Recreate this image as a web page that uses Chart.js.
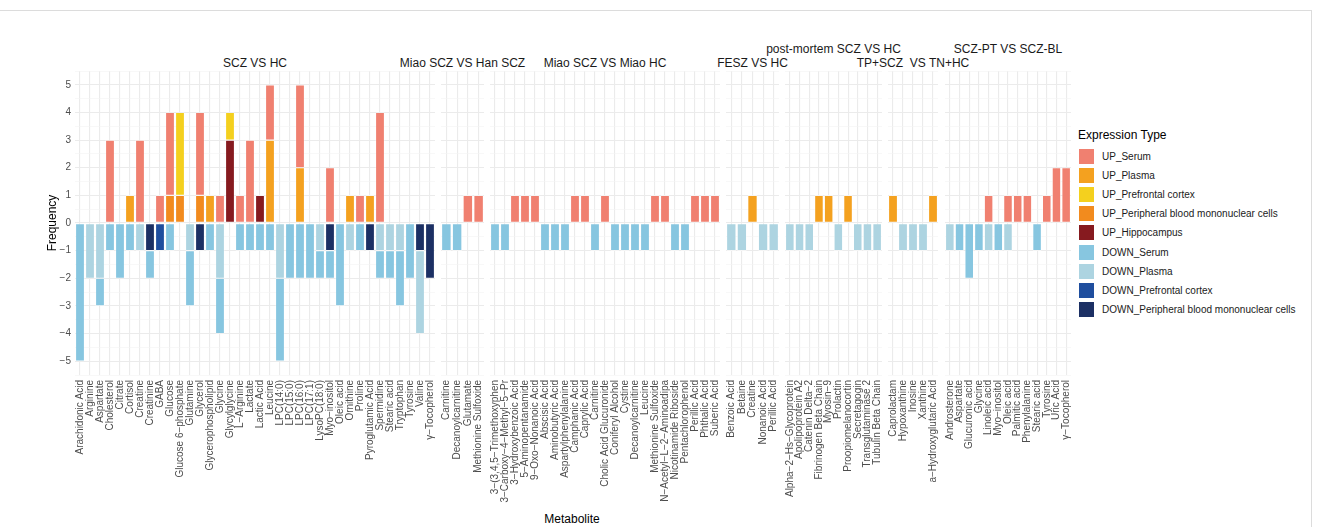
<!DOCTYPE html>
<html>
<head>
<meta charset="utf-8">
<script src="https://cdn.jsdelivr.net/npm/chart.js@4.4.1/dist/chart.umd.min.js"></script>
<style>
  html, body { margin: 0; padding: 0; background: #fff; }
  body { width: 1322px; height: 527px; position: relative; overflow: hidden;
         font-family: "Liberation Sans", Arial, sans-serif; }
  .frame { position: absolute; left: -1px; top: 10px; width: 1313px; height: 540px;
           border: 1px solid #dcdcdc; box-sizing: border-box; }
  canvas.panel { position: absolute; top: 0; }
  .strip { position: absolute; font-size: 12px; line-height: 14px; color: #1a1a1a;
           white-space: pre; transform: translateX(-50%); }
  .axis-title { position: absolute; font-size: 12px; line-height: 14px; color: #000;
                transform: translateX(-50%); white-space: pre; }
  .legend-title { position: absolute; left: 1078px; top: 128px; font-size: 12px;
                  line-height: 14px; color: #000; }
  .legend-row { position: absolute; left: 1078px; height: 17px; display: flex; align-items: center; }
  .legend-key { width: 17px; height: 17px; box-sizing: border-box; border: 0.5px solid #fff; }
  .legend-label { margin-left: 7px; font-size: 10px; line-height: 17px; color: #1a1a1a; white-space: pre; }
</style>
</head>
<body>
<div class="frame"></div>
<div id="strips"></div>
<div class="axis-title" style="left:572px; top:512px;">Metabolite</div>
<div class="legend-title">Expression Type</div>
<div id="legend"></div>

<script>
// ---- expression types (legend order) ----
const typeNames = [
  'UP_Serum', 'UP_Plasma', 'UP_Prefrontal cortex', 'UP_Peripheral blood mononuclear cells',
  'UP_Hippocampus', 'DOWN_Serum', 'DOWN_Plasma', 'DOWN_Prefrontal cortex',
  'DOWN_Peripheral blood mononuclear cells'
];
const typeColors = [
  '#F08070', '#F4A11F', '#F4D01E', '#F28B1E', '#861A1F',
  '#87C6E0', '#ADD4E1', '#1F4E9E', '#1C3064'
];

// ---- SCZ VS HC ----
const sczHcMetabolites = [
  'Arachidonic Acid', 'Arginine', 'Aspartate', 'Cholesterol', 'Citrate', 'Cortisol', 'Creatine',
  'Creatinine', 'GABA', 'Glucose', 'Glucose 6\u2212phosphate', 'Glutamine', 'Glycerol',
  'Glycerophospholipid', 'Glycine', 'Glycylglycine', 'L\u2212Arginine', 'Lactate', 'Lactic Acid',
  'Leucine', 'LPC(14:0)', 'LPC(15:0)', 'LPC(16:0)', 'LPC(17:1)', 'LysoPC(18:0)', 'Myo\u2212inositol',
  'Oleic acid', 'Ornithine', 'Proline', 'Pyroglutamic Acid', 'Spermidine', 'Stearic acid',
  'Tryptophan', 'Tyrosine', 'Valine', '\u03b3\u2212Tocopherol'
];
const sczHcUpSerum        = [0,0,0,3,0,0,3,0,1,3, 0,0,3,0,1,0,1,3,0,2, 0,0,3,0,0,2,0,0,1,0, 4,0,0,0,0,0];
const sczHcUpPlasma       = [0,0,0,0,0,1,0,0,0,0, 0,0,0,1,0,0,0,0,0,3, 0,0,2,0,0,0,0,1,0,1, 0,0,0,0,0,0];
const sczHcUpPrefrontal   = [0,0,0,0,0,0,0,0,0,0, 3,0,0,0,0,1,0,0,0,0, 0,0,0,0,0,0,0,0,0,0, 0,0,0,0,0,0];
const sczHcUpPbmc         = [0,0,0,0,0,0,0,0,0,1, 1,0,1,0,0,0,0,0,0,0, 0,0,0,0,0,0,0,0,0,0, 0,0,0,0,0,0];
const sczHcUpHippocampus  = [0,0,0,0,0,0,0,0,0,0, 0,0,0,0,0,3,0,0,1,0, 0,0,0,0,0,0,0,0,0,0, 0,0,0,0,0,0];
const sczHcDownSerum      = [-5,0,-1,-1,-2,-1,0,-1,0,-1, 0,-2,0,-1,-2,0,-1,-1,-1,-1, -3,-2,-2,-2,-1,-1,-3,0,-1,0, -1,-1,-2,-2,0,0];
const sczHcDownPlasma     = [0,-2,-2,0,0,0,-1,0,0,0, 0,-1,0,0,-2,0,0,0,0,0, -2,0,0,0,-1,0,0,-1,0,0, -1,-1,-1,0,-3,0];
const sczHcDownPrefrontal = [0,0,0,0,0,0,0,0,-1,0, 0,0,0,0,0,0,0,0,0,0, 0,0,0,0,0,0,0,0,0,0, 0,0,0,0,0,0];
const sczHcDownPbmc       = [0,0,0,0,0,0,0,-1,0,0, 0,0,-1,0,0,0,0,0,0,0, 0,0,0,0,0,-1,0,0,0,-1, 0,0,0,0,-1,-2];

// ---- Miao SCZ VS Han SCZ ----
const miaoHanMetabolites = ['Carnitine', 'Decanoylcarnitine', 'Glutamate', 'Methionine Sulfoxide'];
const miaoHanUpSerum   = [0, 0, 1, 1];
const miaoHanDownSerum = [-1, -1, 0, 0];

// ---- Miao SCZ VS Miao HC ----
const miaoHcMetabolites = [
  '3\u2212(3,4,5\u2212Trimethoxyphen', '3\u2212Carboxy\u22124\u2212Methyl\u22125\u2212Pr',
  '3\u2212Hydroxybenzoic Acid', '5\u2212Aminopentanamide', '9\u2212Oxo\u2212Nonanoic Acid',
  'Abscisic Acid', 'Aminobutyric Acid', 'Aspartylphenylalanine', 'Camphanic Acid', 'Caprylic Acid',
  'Carnitine', 'Cholic Acid Glucuronide', 'Coniferyl Alcohol', 'Cystine', 'Decanoylcarnitine',
  'Leucine', 'Methionine Sulfoxide', 'N\u2212Acetyl\u2212L\u22122\u2212Aminoadipa',
  'Nicotinamide Riboside', 'Pentachlorophenol', 'Perillic Acid', 'Phthalic Acid', 'Suberic Acid'
];
const miaoHcUpSerum   = [0,0,1,1,1,0,0,0,1,1,0,1,0,0,0,0,1,1,0,0,1,1,1];
const miaoHcDownSerum = [-1,-1,0,0,0,-1,-1,-1,0,0,-1,0,-1,-1,-1,-1,0,0,-1,-1,0,0,0];

// ---- FESZ VS HC ----
const feszMetabolites = ['Benzoic Acid', 'Betaine', 'Creatine', 'Nonanoic Acid', 'Perillic Acid'];
const feszUpPlasma   = [0, 0, 1, 0, 0];
const feszDownPlasma = [-1, -1, 0, -1, -1];

// ---- post-mortem SCZ VS HC ----
const postMortemMetabolites = [
  'Alpha\u22122\u2212Hs\u2212Glycoprotein', 'Apolipoprotein A2', 'Catenin Delta\u22122',
  'Fibrinogen Beta Chain', 'Myosin\u22129', 'Prolactin', 'Proopiomelanocortin', 'Secretagogin',
  'Transglutaminase 2', 'Tubulin Beta Chain'
];
const postMortemUpPlasma   = [0, 0, 0, 1, 1, 0, 1, 0, 0, 0];
const postMortemDownPlasma = [-1, -1, -1, 0, 0, -1, 0, -1, -1, -1];

// ---- TP+SCZ VS TN+HC ----
const tpMetabolites = ['Caprolactam', 'Hypoxanthine', 'Inosine', 'Xanthine', 'a\u2212Hydroxyglutaric Acid'];
const tpUpPlasma   = [1, 0, 0, 0, 1];
const tpDownPlasma = [0, -1, -1, -1, 0];

// ---- SCZ-PT VS SCZ-BL ----
const ptBlMetabolites = [
  'Androsterone', 'Aspartate', 'Glucuronic acid', 'Glycine', 'Linoleic acid', 'Myo\u2212inositol',
  'Oleic acid', 'Palmitic acid', 'Phenylalanine', 'Stearic acid', 'Tyrosine', 'Uric Acid',
  '\u03b3\u2212Tocopherol'
];
const ptBlUpSerum    = [0, 0, 0, 0, 1, 0, 1, 1, 1, 0, 1, 2, 2];
const ptBlDownSerum  = [0, -1, -2, -1, 0, -1, 0, 0, 0, -1, 0, 0, 0];
const ptBlDownPlasma = [-1, 0, 0, 0, -1, 0, -1, 0, 0, 0, 0, 0, 0];

// y axis range and breaks
const yMin = -5.5, yMax = 5.5, yMinorStep = 0.5;

// panels: series given in legend order (null = type absent in this comparison)
const panels = [
  { title: 'SCZ VS HC', raised: false, labels: sczHcMetabolites,
    series: [sczHcUpSerum, sczHcUpPlasma, sczHcUpPrefrontal, sczHcUpPbmc, sczHcUpHippocampus,
             sczHcDownSerum, sczHcDownPlasma, sczHcDownPrefrontal, sczHcDownPbmc] },
  { title: 'Miao SCZ VS Han SCZ', raised: false, labels: miaoHanMetabolites,
    series: [miaoHanUpSerum, null, null, null, null, miaoHanDownSerum, null, null, null] },
  { title: 'Miao SCZ VS Miao HC', raised: false, labels: miaoHcMetabolites,
    series: [miaoHcUpSerum, null, null, null, null, miaoHcDownSerum, null, null, null] },
  { title: 'FESZ VS HC', raised: false, labels: feszMetabolites,
    series: [null, feszUpPlasma, null, null, null, null, feszDownPlasma, null, null] },
  { title: 'post-mortem SCZ VS HC', raised: true, labels: postMortemMetabolites,
    series: [null, postMortemUpPlasma, null, null, null, null, postMortemDownPlasma, null, null] },
  { title: 'TP+SCZ  VS TN+HC', raised: false, labels: tpMetabolites,
    series: [null, tpUpPlasma, null, null, null, null, tpDownPlasma, null, null] },
  { title: 'SCZ-PT VS SCZ-BL', raised: true, labels: ptBlMetabolites,
    series: [ptBlUpSerum, null, null, null, null, ptBlDownSerum, ptBlDownPlasma, null, null] }
];

// ---- layout (pixels) ----
const PAGE_H = 527;
const PLOT_TOP = 71;
const PLOT_BOTTOM = 375;
const Y_AXIS_W = 75;
const panelBoxes = [
  [75, 435], [441, 484], [490, 720], [726, 779], [785, 882], [888, 938], [945, 1071]
];
// stacking order: segment nearest zero first (reverse of legend order within UP and DOWN)
const stackOrder = [4, 3, 2, 1, 0, 8, 7, 6, 5];

Chart.defaults.font.family = '"Liberation Sans", Arial, sans-serif';
Chart.defaults.animation = false;

const yTickValues = [];
for (let v = yMin; v <= yMax + 1e-9; v += yMinorStep) yTickValues.push(Math.round(v * 10) / 10);

const isMajor = v => Math.abs(v - Math.round(v)) < 1e-9;
const fmtNum = v => (v < 0 ? '\u2212' + Math.abs(v) : String(v));

function drawPanel(panel, box, withYAxis) {
  const canvas = document.createElement('canvas');
  canvas.className = 'panel';
  const left = withYAxis ? 0 : box[0];
  const width = box[1] - left;
  canvas.width = width;
  canvas.height = PAGE_H;
  canvas.style.left = left + 'px';
  canvas.style.width = width + 'px';
  canvas.style.height = PAGE_H + 'px';
  document.body.appendChild(canvas);

  const n = panel.labels.length;
  const datasets = [];
  stackOrder.forEach(t => {
    const arr = panel.series[t];
    if (!arr) return;
    datasets.push({
      label: typeNames[t],
      data: arr.map(v => (v === 0 ? null : v)),
      backgroundColor: typeColors[t],
      borderColor: '#ffffff',
      borderWidth: 0.6,
      borderSkipped: false,
      barPercentage: 0.9,
      categoryPercentage: 1.0,
      stack: 'freq'
    });
  });

  new Chart(canvas, {
    type: 'bar',
    data: { labels: panel.labels, datasets },
    options: {
      responsive: false,
      animation: false,
      layout: { padding: { top: PLOT_TOP, left: 0, right: 0, bottom: 0 } },
      plugins: { legend: { display: false }, tooltip: { enabled: false }, title: { display: false } },
      scales: {
        x: {
          type: 'category',
          stacked: true,
          offset: true,
          grid: { offset: false, color: '#EBEBEB', lineWidth: 1.1, drawTicks: false },
          border: { display: false },
          ticks: {
            autoSkip: false, maxRotation: 90, minRotation: 90, padding: 5,
            color: '#4D4D4D', font: { size: 10 }
          },
          afterFit: s => { s.height = PAGE_H - PLOT_BOTTOM; s.paddingLeft = 0; s.paddingRight = 0; }
        },
        y: {
          type: 'linear',
          stacked: true,
          min: yMin, max: yMax,
          afterBuildTicks: s => { s.ticks = yTickValues.map(v => ({ value: v })); },
          ticks: {
            display: withYAxis, autoSkip: false, padding: 4,
            color: '#4D4D4D', font: { size: 10 },
            callback: v => (isMajor(v) ? fmtNum(Math.round(v)) : '')
          },
          grid: {
            drawTicks: false,
            color: ctx => (isMajor(ctx.tick.value) ? '#EBEBEB' : '#F4F4F4'),
            lineWidth: ctx => (isMajor(ctx.tick.value) ? 1.1 : 0.6)
          },
          border: { display: false },
          title: withYAxis
            ? { display: true, text: 'Frequency', color: '#000', font: { size: 12 }, padding: { top: 45, bottom: 0 } }
            : { display: false },
          afterFit: s => { s.width = withYAxis ? Y_AXIS_W : 0; s.paddingTop = 0; s.paddingBottom = 0; }
        }
      }
    }
  });

  // facet strip label
  const strip = document.createElement('div');
  strip.className = 'strip';
  strip.textContent = panel.title;
  strip.style.left = ((box[0] + box[1]) / 2) + 'px';
  strip.style.top = (panel.raised ? 42 : 56) + 'px';
  document.getElementById('strips').appendChild(strip);
}

panels.forEach((p, i) => drawPanel(p, panelBoxes[i], i === 0));

// legend
const legend = document.getElementById('legend');
typeNames.forEach((name, i) => {
  const row = document.createElement('div');
  row.className = 'legend-row';
  row.style.top = (147.5 + i * 19.2) + 'px';
  const key = document.createElement('div');
  key.className = 'legend-key';
  key.style.background = typeColors[i];
  const lab = document.createElement('div');
  lab.className = 'legend-label';
  lab.textContent = name;
  row.appendChild(key);
  row.appendChild(lab);
  legend.appendChild(row);
});
</script>
</body>
</html>
